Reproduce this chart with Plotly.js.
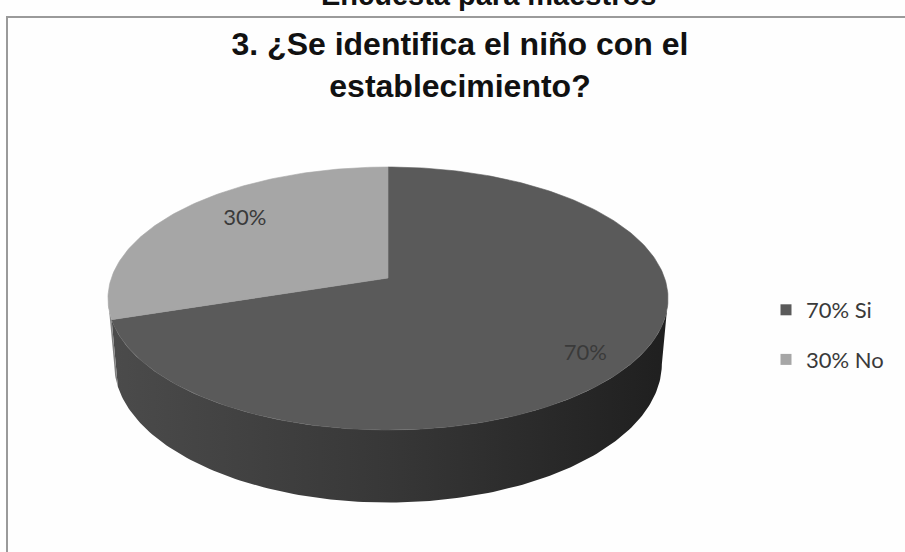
<!DOCTYPE html>
<html>
<head>
<meta charset="utf-8">
<script src="https://cdn.plot.ly/plotly-3.0.1.min.js"></script>
<style>html,body{margin:0;padding:0;background:#fefefe;}#chart{width:905px;height:552px;}</style>
</head>
<body>
<div id="chart"></div>
<script>
// ---- data ----
const categories = ["Si", "No"];
const values = [70, 30];
const legendLabels = ["70% Si", "30% No"];
const sliceLabels = ["70%", "30%"];

// ---- styles ----
const topColors = ["#5a5a5a", "#a6a6a6"];
const sideScales = [
  [[0, "#4b4b4b"], [0.5, "#373737"], [1, "#1f1f1f"]],
  [[0, "#8a8a8a"], [1, "#7c7c7c"]]
];
const labelRadius = [0.85, 0.72];
const labelShift = [[-9, 7], [8, -8]];

// ---- projection of a tilted disc with perspective (pixel space) ----
const P = {cx: 388, cy: 278, k: 276.6, S: 128.3, C: 245, e: 0.156, sd: 0.0817, h: 0.27};
function proj(phiDeg, r, depth) {
  const p = phiDeg * Math.PI / 180;
  const u = r * Math.sin(p), v = r * Math.cos(p);
  const den = 1 + P.e * v + depth * P.sd;
  return [P.cx + P.k * u / den, P.cy - (P.S * v - P.C * depth) / den];
}
function arc(a, b, r, depth) {
  const pts = [];
  const n = Math.max(2, Math.ceil(Math.abs(b - a) / 1));
  for (let i = 0; i <= n; i++) pts.push(proj(a + (b - a) * i / n, r, depth));
  return pts;
}

const total = values.reduce((s, v) => s + v, 0);
let start = 0;
const slices = values.map((v) => {
  const a = start, b = start + 360 * v / total;
  start = b;
  return [a, b];
});

const visA = Math.acos(-P.e) * 180 / Math.PI;
const visB = 360 - visA;

const traces = [];
// side walls
slices.forEach(([a, b], i) => {
  const s = Math.max(a, visA), t = Math.min(b, visB);
  if (t <= s) return;
  const pts = arc(s, t, 1, 0).concat(arc(t, s, 1, P.h));
  pts.push(pts[0]);
  traces.push({
    type: "scatter", mode: "lines", x: pts.map(p => p[0]), y: pts.map(p => p[1]),
    fill: "toself", fillcolor: sideScales[i][0][1],
    fillgradient: {type: "horizontal", colorscale: sideScales[i]},
    line: {width: 0}, hoverinfo: "skip", showlegend: false
  });
});
// tops
slices.forEach(([a, b], i) => {
  const pts = [proj(0, 0, 0)].concat(arc(a, b, 1, 0));
  pts.push(pts[0]);
  traces.push({
    type: "scatter", mode: "lines", x: pts.map(p => p[0]), y: pts.map(p => p[1]),
    fill: "toself", fillcolor: topColors[i],
    line: {width: 0.6, color: topColors[i]}, hoverinfo: "skip", showlegend: false
  });
});
// labels
const lp = slices.map(([a, b], i) => {
  const q = proj((a + b) / 2, labelRadius[i], 0);
  return [q[0] + labelShift[i][0], q[1] + labelShift[i][1]];
});
traces.push({
  type: "scatter", mode: "text", x: lp.map(p => p[0]), y: lp.map(p => p[1]),
  text: sliceLabels, textposition: "middle center",
  textfont: {family: "Lato, 'Open Sans', sans-serif", size: 22, color: "#3a3a3a"},
  hoverinfo: "skip", showlegend: false
});
// legend entries
categories.forEach((c, i) => {
  traces.push({
    type: "scatter", mode: "markers", x: [null], y: [null], name: legendLabels[i],
    legendgroup: c,
    marker: {symbol: "square", size: 11, color: topColors[i]}
  });
});

const layout = {
  width: 905, height: 552,
  margin: {l: 0, r: 0, t: 0, b: 0},
  paper_bgcolor: "#fefefe", plot_bgcolor: "#fefefe",
  xaxis: {range: [0, 905], visible: false, fixedrange: true},
  yaxis: {range: [552, 0], visible: false, fixedrange: true},
  showlegend: true,
  legend: {
    x: 766 / 905, y: 1 - 289 / 552, xanchor: "left", yanchor: "top",
    font: {family: "Lato, 'Open Sans', sans-serif", size: 22, color: "#3a3a3a"},
    bgcolor: "rgba(0,0,0,0)", tracegroupgap: 18, itemwidth: 30
  },
  title: {
    text: "3. ¿Se identifica el niño con el<br>establecimiento?",
    font: {family: "'Liberation Sans', Arial, sans-serif", size: 32, color: "#111", weight: "bold"},
    x: 460 / 905, xanchor: "center", xref: "container",
    y: 1 - 55 / 552, yanchor: "top", yref: "container"
  },
  shapes: [{
    type: "rect", xref: "paper", yref: "paper",
    x0: 7 / 905, x1: 1.05, y0: -0.05, y1: 1 - 17 / 552,
    line: {color: "#9a9a9a", width: 2}, fillcolor: "rgba(0,0,0,0)", layer: "below"
  }],
  annotations: [{
    text: "<b>Encuesta para maestros</b>", xref: "paper", yref: "paper",
    x: 488 / 905, y: 1 - 13 / 552, xanchor: "center", yanchor: "bottom",
    showarrow: false,
    font: {family: "'Liberation Sans', Arial, sans-serif", size: 29, color: "#111"}
  }]
};

Plotly.newPlot("chart", traces, layout, {staticPlot: true, displayModeBar: false});
</script>
</body>
</html>
